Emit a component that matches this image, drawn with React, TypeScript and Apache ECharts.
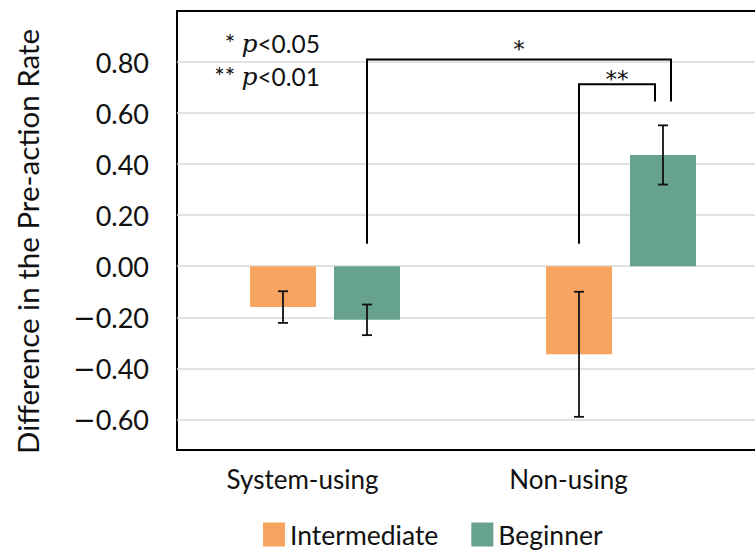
import React, { useEffect, useRef } from "react";
import * as echarts from "echarts";

const categories = ["System-using", "Non-using"];
const seriesNames = ["Intermediate", "Beginner"];
const intermediate = [-0.16, -0.345];
const beginner = [-0.21, 0.436];
const intermediateErr = [0.062, 0.245];
const beginnerErr = [0.06, 0.116];
const yTicks = [-0.6, -0.4, -0.2, 0, 0.2, 0.4, 0.6, 0.8];
// significance brackets: [fromCategory, fromSlot, toCategory, toSlot, topValue, fromBottomValue, toBottomValue]
const bracketLabels = ["*", "**"];
const bracketFrom = [[0, 1], [1, 0]];
const bracketTo = [[1, 1], [1, 1]];
const bracketTop = [0.81, 0.713];
const bracketFromBottom = [0.088, 0.088];
const bracketToBottom = [0.645, 0.645];

const BRACKET_SHIFT = [8, -8];
const BRACKET_LABEL_GAP = [10, 5];
const COLORS = ["#F6A45F", "#67A28F"];
const FONT = "Lato, 'Noto Sans', sans-serif";
const BAR_WIDTH = 66;
const BAR_GAP = 18;
const slotOffset = (slot: number) => (slot === 0 ? -1 : 1) * (BAR_WIDTH + BAR_GAP) / 2;

export default function App() {
  const ref = useRef<HTMLDivElement>(null);
  useEffect(() => {
    if (!ref.current) return;
    const chart = echarts.init(ref.current, undefined, { renderer: "svg" });

    const errData = [
      ...intermediate.map((v, i) => [i, v, intermediateErr[i], 0]),
      ...beginner.map((v, i) => [i, v, beginnerErr[i], 1]),
    ];
    const bracketData = bracketLabels.map((_, i) => [
      bracketFrom[i][0], bracketFrom[i][1], bracketTo[i][0], bracketTo[i][1],
      bracketTop[i], bracketFromBottom[i], bracketToBottom[i],
    ]);

    const fmt = (v: number) => {
      const s = Math.abs(v).toFixed(2);
      return v < -1e-9 ? "{m|\u2212}{n|" + s + "}" : "{n|" + s + "}";
    };

    chart.setOption({
      animation: false,
      textStyle: { fontFamily: FONT },
      grid: {
        left: 177,
        top: 11,
        bottom: 101,
        width: 592,
        outerBoundsMode: "none",
        containLabel: false,
        show: true,
        borderColor: "#000",
        borderWidth: 2,
        backgroundColor: "transparent",
      },
      legend: {
        data: seriesNames,
        left: 258,
        top: 516,
        icon: "rect",
        itemWidth: 22,
        itemHeight: 24,
        itemGap: 33,
        textStyle: { fontSize: 26.5, color: "#111", fontFamily: FONT },
      },
      xAxis: {
        type: "category",
        data: categories,
        axisLine: { show: false },
        axisTick: { show: false },
        splitLine: { show: false },
        axisLabel: {
          margin: 16,
          fontSize: 26,
          color: "#111",
          fontFamily: FONT,
          formatter: (v: string) => (v === categories[0] ? "{a|" + v + "}" : "{b|" + v + "}"),
          rich: {
            a: { fontSize: 26, color: "#111", fontFamily: FONT, padding: [0, 45, 0, 0] },
            b: { fontSize: 26, color: "#111", fontFamily: FONT, padding: [0, 105, 0, 0] },
          },
        },
      },
      yAxis: {
        type: "value",
        min: -0.72,
        max: 1.0,
        name: "Difference in the Pre-action Rate",
        nameLocation: "middle",
        nameGap: 135,
        nameTextStyle: { fontSize: 29.5, color: "#111", fontFamily: FONT, padding: [0, 22, 0, 0] },
        axisLine: { show: false },
        axisTick: { show: false, customValues: yTicks },
        axisLabel: {
          margin: 28,
          fontSize: 27,
          color: "#111",
          fontFamily: FONT,
          formatter: fmt,
          customValues: yTicks,
          rich: {
            m: { fontSize: 27, color: "#111", fontFamily: "'DejaVu Sans', sans-serif" },
            n: { fontSize: 27, color: "#111", fontFamily: FONT },
          },
        },
        splitLine: { lineStyle: { color: "#d9d9d9", width: 1.5 } },
      },
      graphic: [
        {
          type: "text",
          x: 320,
          y: 43,
          style: {
            text: "{a|* }{p|p}{a|<0.05}",
            textAlign: "right",
            textVerticalAlign: "middle",
            rich: {
              a: { fontSize: 24.5, fontFamily: FONT, fill: "#111" },
              p: { fontSize: 25, fontFamily: "'DejaVu Serif', serif", fontStyle: "italic", fill: "#111" },
            },
          },
        },
        {
          type: "text",
          x: 320,
          y: 76,
          style: {
            text: "{a|** }{p|p}{a|<0.01}",
            textAlign: "right",
            textVerticalAlign: "middle",
            rich: {
              a: { fontSize: 24.5, fontFamily: FONT, fill: "#111" },
              p: { fontSize: 25, fontFamily: "'DejaVu Serif', serif", fontStyle: "italic", fill: "#111" },
            },
          },
        },
      ],
      series: [
        {
          name: seriesNames[0],
          type: "bar",
          data: intermediate,
          barWidth: BAR_WIDTH,
          barGap: (BAR_GAP / BAR_WIDTH) * 100 + "%",
          itemStyle: { color: COLORS[0] },
        },
        {
          name: seriesNames[1],
          type: "bar",
          data: beginner,
          barWidth: BAR_WIDTH,
          barGap: (BAR_GAP / BAR_WIDTH) * 100 + "%",
          itemStyle: { color: COLORS[1] },
        },
        {
          type: "custom",
          name: "err",
          data: errData,
          z: 10,
          silent: true,
          renderItem: (params: any, api: any) => {
            const cat = api.value(0);
            const v = api.value(1);
            const e = api.value(2);
            const slot = api.value(3);
            const cx = api.coord([cat, 0])[0] + slotOffset(slot);
            const yHi = api.coord([cat, v + e])[1];
            const yLo = api.coord([cat, v - e])[1];
            const cap = 5;
            const st = { stroke: "#111", lineWidth: 1.8 };
            return {
              type: "group",
              children: [
                { type: "line", shape: { x1: cx, y1: yHi, x2: cx, y2: yLo }, style: st },
                { type: "line", shape: { x1: cx - cap, y1: yHi, x2: cx + cap, y2: yHi }, style: st },
                { type: "line", shape: { x1: cx - cap, y1: yLo, x2: cx + cap, y2: yLo }, style: st },
              ],
            };
          },
        },
        {
          type: "custom",
          name: "sig",
          data: bracketData,
          z: 10,
          silent: true,
          renderItem: (params: any, api: any) => {
            const i = params.dataIndex;
            const x1 = api.coord([api.value(0), 0])[0] + slotOffset(api.value(1));
            const x2 = api.coord([api.value(2), 0])[0] + slotOffset(api.value(3)) + BRACKET_SHIFT[i];
            const yTop = api.coord([0, api.value(4)])[1];
            const y1 = api.coord([0, api.value(5)])[1];
            const y2 = api.coord([0, api.value(6)])[1];
            return {
              type: "group",
              children: [
                {
                  type: "polyline",
                  shape: { points: [[x1, y1], [x1, yTop], [x2, yTop], [x2, y2]] },
                  style: { stroke: "#000", lineWidth: 2, fill: null },
                },
                {
                  type: "text",
                  x: (x1 + x2) / 2,
                  y: yTop - BRACKET_LABEL_GAP[i],
                  style: {
                    text: bracketLabels[i],
                    textAlign: "center",
                    textVerticalAlign: "middle",
                    fontSize: 23,
                    fontFamily: "'DejaVu Sans', sans-serif",
                    fill: "#111",
                  },
                },
              ],
            };
          },
        },
      ],
    });
    return () => chart.dispose();
  }, []);
  return (
    <div
      ref={ref}
      style={{ position: "fixed", left: 0, top: 0, width: 755, height: 551, background: "#fff" }}
    />
  );
}
